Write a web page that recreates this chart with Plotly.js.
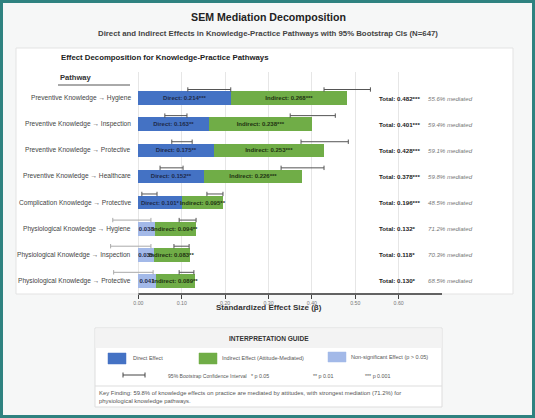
<!DOCTYPE html>
<html>
<head>
<meta charset="utf-8">
<script src="https://cdn.plot.ly/plotly-3.0.1.min.js"></script>
<style>
  html, body { margin: 0; padding: 0; background: #f6f7f7; }
  #chart { width: 535px; height: 418px; }
</style>
</head>
<body>
<div id="chart"></div>
<script>
// ---- Data ----
const pathways = [
  'Preventive Knowledge \u2192 Hygiene',
  'Preventive Knowledge \u2192 Inspection',
  'Preventive Knowledge \u2192 Protective',
  'Preventive Knowledge \u2192 Healthcare',
  'Complication Knowledge \u2192 Protective',
  'Physiological Knowledge \u2192 Hygiene',
  'Physiological Knowledge \u2192 Inspection',
  'Physiological Knowledge \u2192 Protective'
];
const directEffect   = [0.214, 0.163, 0.175, 0.152, 0.101, 0.038, 0.035, 0.041];
const directSig      = ['***', '**', '**', '**', '*', '', '', ''];
const indirectEffect = [0.268, 0.238, 0.253, 0.226, 0.095, 0.094, 0.083, 0.089];
const indirectSig    = ['***', '***', '***', '***', '**', '**', '**', '**'];
const totalEffect    = [0.482, 0.401, 0.428, 0.378, 0.196, 0.132, 0.118, 0.130];
const totalSig       = ['***', '***', '***', '***', '***', '*', '*', '*'];
const pctMediated    = [55.6, 59.4, 59.1, 59.8, 48.5, 71.2, 70.3, 68.5];
// 95% bootstrap CIs
const directCILow    = [0.114, 0.061, 0.077, 0.050, 0.008, -0.059, -0.064, -0.057];
const directCIHigh   = [0.213, 0.112, 0.124, 0.103, 0.043, 0.029, 0.029, 0.034];
const indirectCILow  = [0.214, 0.187, 0.200, 0.177, 0.057, 0.056, 0.047, 0.053];
const indirectCIHigh = [0.321, 0.291, 0.309, 0.276, 0.094, 0.095, 0.082, 0.087];
const xTicks = [0, 0.1, 0.2, 0.3, 0.4, 0.5, 0.6];

// ---- Styling ----
const FONT = 'Liberation Sans, Arial, Helvetica, sans-serif';
const C_DIRECT = '#4472c4';
const C_INDIRECT = '#70ad47';
const C_NONSIG = '#a3b9e8';
const W = 535, H = 418;
const M = { l: 95, r: 93, t: 72, b: 124 };
const PW = W - M.l - M.r, PH = H - M.t - M.b;
// pixel -> paper helpers for the page decoration
const px = v => (v - M.l) / PW;
const py = v => 1 - (v - M.t) / PH;

const n = pathways.length;
const rowY = pathways.map((_, i) => n - 1 - i);
const isSig = directSig.map(s => s !== '');
const ciOffset = 0.33;

// ---- Bars ----
const directTrace = {
  type: 'bar', orientation: 'h',
  x: directEffect, y: rowY, width: 0.52,
  marker: { color: isSig.map(s => s ? C_DIRECT : C_NONSIG), line: { width: 0 } },
  text: directEffect.map((v, i) => isSig[i] ? 'Direct: ' + v.toFixed(3) + directSig[i] : v.toFixed(3)),
  textposition: 'inside', insidetextanchor: 'middle', constraintext: 'none', textangle: 0,
  insidetextfont: { family: FONT, size: 6, color: '#1e2a4a', weight: 'bold' },
  hoverinfo: 'skip', showlegend: false
};
const indirectTrace = {
  type: 'bar', orientation: 'h',
  x: indirectEffect, y: rowY, width: 0.52,
  marker: { color: C_INDIRECT, line: { width: 0 } },
  text: indirectEffect.map((v, i) => 'Indirect: ' + v.toFixed(3) + indirectSig[i]),
  textposition: 'inside', insidetextanchor: 'middle', constraintext: 'none', textangle: 0,
  insidetextfont: { family: FONT, size: 6, color: '#1f3312', weight: 'bold' },
  hoverinfo: 'skip', showlegend: false
};

// ---- CI whiskers (drawn just above each segment) ----
function whiskers(idx, lo, hi, color) {
  return {
    type: 'scatter', mode: 'markers',
    x: idx.map(i => (lo(i) + hi(i)) / 2),
    y: idx.map(i => rowY[i] + ciOffset),
    marker: { size: 1, color: 'rgba(0,0,0,0)' },
    error_x: {
      type: 'data', symmetric: false,
      array: idx.map(i => (hi(i) - lo(i)) / 2),
      arrayminus: idx.map(i => (hi(i) - lo(i)) / 2),
      color: color, thickness: 1, width: 2.2
    },
    cliponaxis: false, hoverinfo: 'skip', showlegend: false
  };
}
const all = pathways.map((_, i) => i);
const sigIdx = all.filter(i => isSig[i]);
const nonSigIdx = all.filter(i => !isSig[i]);
const ciDirectSig = whiskers(sigIdx, i => directCILow[i], i => directCIHigh[i], '#555555');
const ciDirectNon = whiskers(nonSigIdx, i => directCILow[i], i => directCIHigh[i], '#aaaaaa');
const ciIndirect = whiskers(all, i => directEffect[i] + indirectCILow[i], i => directEffect[i] + indirectCIHigh[i], '#555555');

// ---- Annotations ----
const ann = [];
// headings
ann.push({ xref: 'paper', yref: 'paper', x: px(268), y: py(33), text: 'Direct and Indirect Effects in Knowledge-Practice Pathways with 95% Bootstrap CIs (N=647)',
  showarrow: false, xanchor: 'center', yanchor: 'middle', font: { family: FONT, size: 7.8, color: '#444', weight: 'bold' } });
ann.push({ xref: 'paper', yref: 'paper', x: px(59), y: py(58), text: 'Effect Decomposition for Knowledge-Practice Pathways',
  showarrow: false, xanchor: 'left', yanchor: 'middle', font: { family: FONT, size: 7.8, color: '#222', weight: 'bold' } });
ann.push({ xref: 'paper', yref: 'paper', x: px(58), y: py(78), text: 'Pathway',
  showarrow: false, xanchor: 'left', yanchor: 'middle', font: { family: FONT, size: 7.6, color: '#333', weight: 'bold' } });
// row labels, totals and mediation share
pathways.forEach((p, i) => {
  ann.push({ xref: 'paper', yref: 'y', x: px(133), y: rowY[i], text: p, showarrow: false,
    xanchor: 'right', yanchor: 'middle', font: { family: FONT, size: 6.6, color: '#444' } });
  ann.push({ xref: 'paper', yref: 'y', x: px(377), y: rowY[i], text: 'Total: ' + totalEffect[i].toFixed(3) + totalSig[i],
    showarrow: false, xanchor: 'left', yanchor: 'middle', font: { family: FONT, size: 6.2, color: '#222', weight: 'bold' } });
  ann.push({ xref: 'paper', yref: 'y', x: px(426), y: rowY[i], text: '<i>' + pctMediated[i].toFixed(1) + '% mediated</i>',
    showarrow: false, xanchor: 'left', yanchor: 'middle', font: { family: FONT, size: 6.1, color: '#777' } });
});
// x-axis title
ann.push({ xref: 'paper', yref: 'paper', x: 0.5, y: py(307), text: 'Standardized Effect Size (\u03b2)',
  showarrow: false, xanchor: 'center', yanchor: 'middle', font: { family: FONT, size: 8, color: '#333', weight: 'bold' } });
// interpretation guide texts
const gFont = { family: FONT, size: 5.5, color: '#555' };
ann.push({ xref: 'paper', yref: 'paper', x: px(268.5), y: py(338), text: 'INTERPRETATION GUIDE', showarrow: false,
  xanchor: 'center', yanchor: 'middle', font: { family: FONT, size: 6.6, color: '#333', weight: 'bold' } });
[[131, 358, 'Direct Effect', 5.5], [220, 358, 'Indirect Effect (Attitude-Mediated)', 5.5], [349, 357, 'Non-significant Effect (p > 0.05)', 5.5],
 [166, 376, '95% Bootstrap Confidence Interval', 5.1], [249, 376, '* p 0.05', 5.3], [311, 376, '** p 0.01', 5.3], [363, 376, '*** p 0.001', 5.3]]
  .forEach(([x, y, t, s]) => ann.push({ xref: 'paper', yref: 'paper', x: px(x), y: py(y), text: t, showarrow: false,
    xanchor: 'left', yanchor: 'middle', font: Object.assign({}, gFont, { size: s }) }));
ann.push({ xref: 'paper', yref: 'paper', x: px(97), y: py(388), align: 'left',
  text: 'Key Finding: 59.8% of knowledge effects on practice are mediated by attitudes, with strongest mediation (71.2%) for<br>physiological knowledge pathways.',
  showarrow: false, xanchor: 'left', yanchor: 'top', font: { family: FONT, size: 5.9, color: '#555' } });

// ---- Shapes (page decoration) ----
const rectPx = (x0, y0, x1, y1, fill, line, lw, layer) => ({ type: 'rect', xref: 'paper', yref: 'paper',
  x0: px(x0), x1: px(x1), y0: py(y1), y1: py(y0), fillcolor: fill, line: { color: line, width: lw }, layer: layer || 'below' });
const linePx = (x0, y0, x1, y1, color, lw) => ({ type: 'line', xref: 'paper', yref: 'paper',
  x0: px(x0), x1: px(x1), y0: py(y0), y1: py(y1), line: { color: color, width: lw }, layer: 'above' });
const shapes = [
  rectPx(1.5, 1.5, 533.5, 416.5, 'rgba(0,0,0,0)', '#2f8280', 3, 'above'),
  rectPx(16, 48, 513, 294, '#ffffff', '#e3e3e3', 1),
  linePx(58, 85, 130, 85, '#555', 1),
  // axis line along the effect range
  { type: 'line', xref: 'x', yref: 'paper', x0: 0, x1: 0.7, y0: 0, y1: 0, line: { color: '#333', width: 1.5 }, layer: 'above' },
  // guide box
  rectPx(95, 328, 442, 407, '#ffffff', '#dddddd', 1),
  rectPx(95.5, 328.5, 441.5, 348, '#f3f3f3', 'rgba(0,0,0,0)', 0),
  linePx(95, 386, 442, 386, '#dddddd', 1),
  rectPx(108, 353, 126, 364, C_DIRECT, C_DIRECT, 0.5, 'above'),
  rectPx(199, 353, 217, 364, C_INDIRECT, C_INDIRECT, 0.5, 'above'),
  rectPx(328, 352, 346, 362, C_NONSIG, C_NONSIG, 0.5, 'above'),
  linePx(123, 375, 145, 375, '#444', 1),
  linePx(123, 372.5, 123, 377.5, '#444', 1),
  linePx(145, 372.5, 145, 377.5, '#444', 1)
];

const layout = {
  width: W, height: H,
  margin: M,
  paper_bgcolor: '#f6f7f7',
  plot_bgcolor: 'rgba(0,0,0,0)',
  font: { family: FONT },
  title: { text: 'SEM Mediation Decomposition', x: 0.5, xref: 'paper', y: 1 - 17 / H, yanchor: 'middle',
           font: { family: FONT, size: 10.6, color: '#222', weight: 'bold' } },
  barmode: 'stack',
  showlegend: false,
  xaxis: {
    range: [-0.1, 0.7], tickvals: xTicks, ticktext: xTicks.map(v => v.toFixed(2)),
    showgrid: true, gridcolor: '#e6e6e6', gridwidth: 1, zeroline: false, showline: false,
    ticks: 'outside', ticklen: 4, tickcolor: '#444', tickwidth: 1,
    tickfont: { family: FONT, size: 5.2, color: '#777' }, fixedrange: true
  },
  yaxis: { range: [-0.5, 8.0], showticklabels: false, showgrid: false, zeroline: false, fixedrange: true },
  annotations: ann,
  shapes: shapes
};

Plotly.newPlot('chart', [directTrace, indirectTrace, ciDirectSig, ciDirectNon, ciIndirect], layout,
  { displayModeBar: false, staticPlot: true });
</script>
</body>
</html>
